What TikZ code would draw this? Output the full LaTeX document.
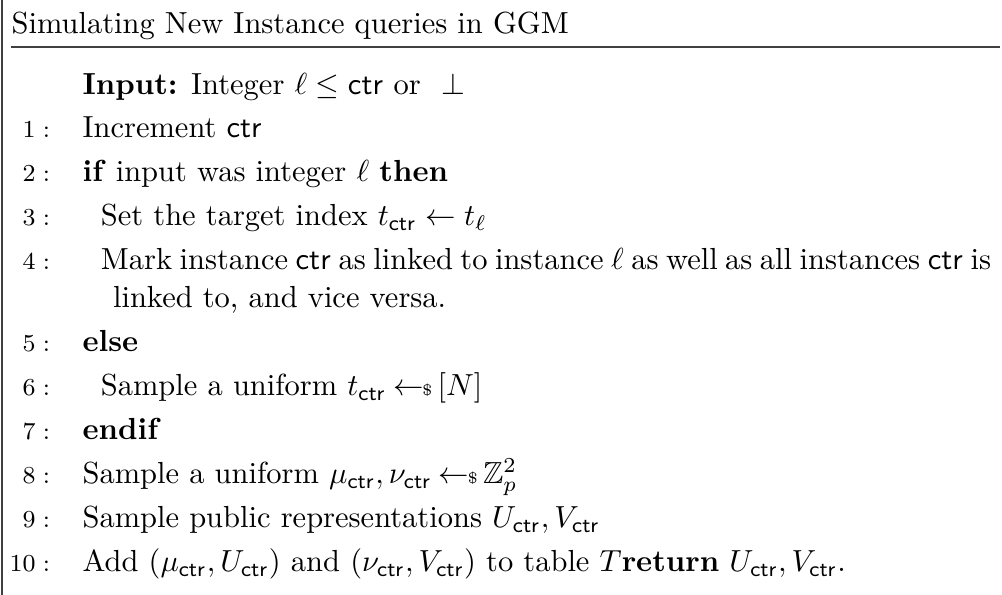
\documentclass[tikz,border=0pt]{standalone}
\usepackage{amsmath}
\usepackage{amsfonts}
\usepackage{amssymb,latexsym}
\usepackage{tikz}
\usetikzlibrary{matrix,positioning}

\newcommand{\ctr}{\mathsf{ctr}}
\newcommand{\rsample}{\hskip2.3pt{\gets\!\!\mbox{\tiny\$}}\,}
\newcommand{\lno}[1]{{\footnotesize$#1:$}}

\begin{document}
\begin{tikzpicture}[x=0.328pt, y=-0.328pt]
  \useasboundingbox (0,0) rectangle (1002,595);
  \draw[line width=0.4pt, black!75] (2,0) -- (2,595);
  \node (title) [anchor=base west, inner sep=0pt] at (11,34) {Simulating New Instance queries in GGM};
  \coordinate (rl) at (11,47);
  \coordinate (rr) at (1000,47);
  \draw[line width=0.4pt, black!75] (rl) -- (rr);
  \matrix (m) [matrix of nodes, matrix anchor=m-1-2.base west, row sep=4.93pt, column sep=10.5pt,
    nodes={inner sep=0pt, text height=7pt, text depth=2.5pt},
    column 1/.style={anchor=base east}, column 2/.style={anchor=base west}] at (82,94)
  {
          & \textbf{Input:} Integer $\ell \leq \ctr$ or \ $\bot$ \\
    \lno{1} & Increment $\ctr$ \\
    \lno{2} & \textbf{if} input was integer $\ell$ \textbf{then} \\
    \lno{3} & \hspace*{6pt}Set the target index $t_{\ctr} \gets t_\ell$ \\
    \lno{4} & \hspace*{6pt}\makebox[292pt][s]{Mark instance $\ctr$ as linked to instance $\ell$ as well as all instances $\ctr$ is} \\[-1.97pt]
          & \hspace*{10pt}linked to, and vice versa. \\
    \lno{5} & \textbf{else} \\
    \lno{6} & \hspace*{6pt}Sample a uniform $t_{\ctr} \rsample [N]$ \\
    \lno{7} & \textbf{endif} \\
    \lno{8} & Sample a uniform $\mu_{\ctr}, \nu_{\ctr} \rsample \mathbb{Z}_p^2$ \\
    \lno{9} & Sample public representations $U_{\ctr}, V_{\ctr}$ \\
    \lno{10} & Add $(\mu_{\ctr}, U_{\ctr})$ and $(\nu_{\ctr}, V_{\ctr})$ to table $T$\textbf{return} $U_{\ctr}, V_{\ctr}$. \\
  };
\end{tikzpicture}
\end{document}
